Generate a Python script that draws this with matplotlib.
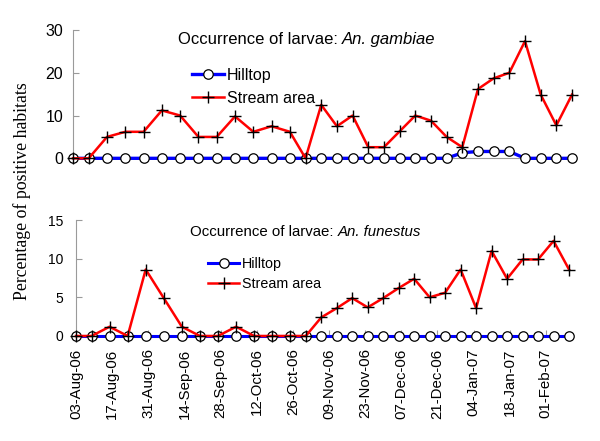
import matplotlib
matplotlib.use('Agg')
import matplotlib.pyplot as plt
import pandas as pd

start = pd.Timestamp('2006-08-03')
day_offsets = [0, 6, 13, 20, 27, 34, 41, 48, 55, 62, 69, 76, 83, 89, 95, 101,
               107, 113, 119, 125, 131, 137, 143, 149, 155, 161, 167, 173, 179, 185, 191]

gambiae_hill = [0, 0, 0, 0, 0, 0, 0, 0, 0, 0, 0, 0, 0, 0, 0, 0,
                0, 0, 0, 0, 0, 0, 0, 1.3, 1.6, 1.6, 1.6, 0, 0, 0, 0]
gambiae_stream = [0, 0, 5.0, 6.2, 6.2, 11.2, 10.0, 5.0, 5.0, 9.8, 6.2, 7.5, 6.2, 0, 12.5, 7.5,
                  10.0, 2.6, 2.6, 6.3, 10.0, 8.8, 5.0, 2.6, 16.2, 18.7, 20.0, 27.4, 14.9, 7.7, 14.9]

funestus_hill = [0, 0, 0, 0, 0, 0, 0, 0, 0, 0, 0, 0, 0, 0, 0, 0,
                 0, 0, 0, 0, 0, 0, 0, 0, 0, 0, 0, 0, 0, 0, 0]
funestus_stream = [0, 0, 1.2, 0, 8.6, 4.9, 1.2, 0, 0, 1.2, 0, 0, 0, 0, 2.4, 3.6,
                   4.9, 3.7, 4.9, 6.2, 7.4, 5.0, 5.6, 8.6, 3.6, 11.0, 7.4, 9.9, 9.9, 12.3, 8.6]

tick_labels = ['03-Aug-06', '17-Aug-06', '31-Aug-06', '14-Sep-06', '28-Sep-06',
               '12-Oct-06', '26-Oct-06', '09-Nov-06', '23-Nov-06', '07-Dec-06',
               '21-Dec-06', '04-Jan-07', '18-Jan-07', '01-Feb-07']

dates = (start + pd.to_timedelta(day_offsets, unit='D')).to_pydatetime()
tick_dates = pd.to_datetime(tick_labels, format='%d-%b-%y').to_pydatetime()

SANS = ['Liberation Sans', 'DejaVu Sans']
GREY = '#9a9a9a'

fig = plt.figure(figsize=(6, 4.41), dpi=100)
ax1 = fig.add_axes([0.1217, 0.641, 0.8317, 0.291])
ax2 = fig.add_axes([0.1267, 0.2381, 0.8217, 0.263])


def draw_panel(ax, hill, stream, lw_hill, lw_stream):
    ax.plot(dates, hill, color='#0000ff', lw=lw_hill, marker='o', ms=6.8,
            mfc='white', mec='black', mew=0.9, label='Hilltop', clip_on=False, zorder=3)
    ax.plot(dates, stream, color='#ff0000', lw=lw_stream, marker='+', ms=8,
            mec='black', mew=1.0, label='Stream area', clip_on=False, zorder=4)
    ax.set_xlim(dates[0], dates[-1])
    for s in ['top', 'right']:
        ax.spines[s].set_visible(False)
    for s in ['left', 'bottom']:
        ax.spines[s].set_color(GREY)
        ax.spines[s].set_linewidth(0.8)
    ax.set_xticks(tick_dates)
    ax.tick_params(axis='both', direction='in', length=4, color=GREY, width=0.8)


# top panel: An. gambiae
draw_panel(ax1, gambiae_hill, gambiae_stream, 2.4, 1.8)
ax1.set_ylim(0, 30)
ax1.set_yticks([0, 10, 20, 30])
ax1.set_xticklabels([])
ax1.tick_params(axis='x', length=0)
ax1.tick_params(axis='y', labelsize=11.5, pad=7)
for lbl in ax1.get_yticklabels():
    lbl.set_family(SANS)
t1 = ax1.text(0.21, 0.922, 'Occurrence of larvae: ', transform=ax1.transAxes,
              fontsize=12, family=SANS, ha='left', va='center')
ax1.annotate('An. gambiae', xy=(1, 0), xycoords=t1, ha='left', va='bottom',
             fontsize=12, family=SANS, style='italic')
ax1.legend(loc='center left', bbox_to_anchor=(0.238, 0.556), frameon=False,
           borderpad=0, borderaxespad=0, handlelength=2.0, handletextpad=0.2,
           labelspacing=0.5, prop={'family': SANS, 'size': 11.5})

# bottom panel: An. funestus
draw_panel(ax2, funestus_hill, funestus_stream, 2.2, 1.8)
ax2.set_ylim(0, 15)
ax2.set_yticks([0, 5, 10, 15])
ax2.set_xticklabels(tick_labels, rotation=90, fontsize=10.8, family=SANS)
ax2.tick_params(axis='x', pad=9)
ax2.tick_params(axis='y', labelsize=10, pad=9)
for lbl in ax2.get_yticklabels():
    lbl.set_family(SANS)
t2 = ax2.text(0.231, 0.897, 'Occurrence of larvae: ', transform=ax2.transAxes,
              fontsize=10.8, family=SANS, ha='left', va='center')
ax2.annotate('An. funestus', xy=(1, 0), xycoords=t2, ha='left', va='bottom',
             fontsize=10.8, family=SANS, style='italic')
ax2.legend(loc='center left', bbox_to_anchor=(0.268, 0.534), frameon=False,
           borderpad=0, borderaxespad=0, handlelength=2.16, handletextpad=0.2,
           labelspacing=0.45, prop={'family': SANS, 'size': 10.3})

fig.text(0.036, 0.567, 'Percentage of positive habitats', rotation=90,
         ha='center', va='center', fontsize=12.8, family=['Liberation Serif', 'DejaVu Serif'])

fig.savefig('out.png', dpi=100)
